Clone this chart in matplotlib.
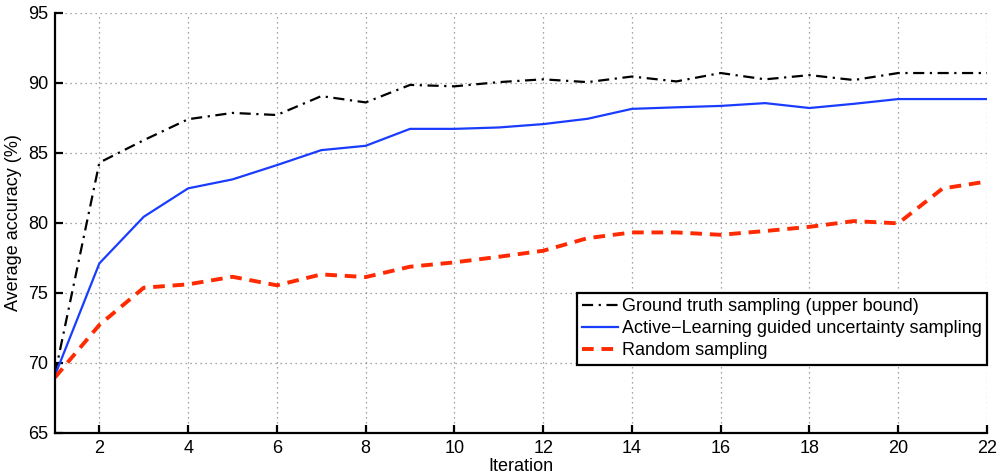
import matplotlib
matplotlib.use("Agg")
import matplotlib.pyplot as plt

iterations = list(range(1, 23))
ground_truth = [69.2, 84.3, 85.9, 87.4, 87.85, 87.7, 89.05, 88.6, 89.85, 89.75,
                90.05, 90.25, 90.05, 90.45, 90.1, 90.7, 90.25, 90.55, 90.2, 90.7,
                90.7, 90.7]
active_learning = [69.1, 77.1, 80.43, 82.46, 83.1, 84.12, 85.19, 85.5, 86.71, 86.71,
                   86.81, 87.05, 87.43, 88.14, 88.25, 88.35, 88.55, 88.2, 88.5, 88.84,
                   88.84, 88.84]
random_sampling = [68.95, 72.7, 75.36, 75.6, 76.14, 75.53, 76.31, 76.12, 76.86, 77.17,
                   77.57, 78.0, 78.9, 79.31, 79.31, 79.14, 79.41, 79.71, 80.12, 79.96,
                   82.45, 82.95]
labels = ["Ground truth sampling (upper bound)",
          "Active\u2212Learning guided uncertainty sampling",
          "Random sampling"]
xticks = list(range(2, 23, 2))
yticks = list(range(65, 96, 5))

plt.rcParams['font.family'] = ['Liberation Sans', 'DejaVu Sans']
fig = plt.figure(figsize=(10, 4.76), dpi=100)
ax = fig.add_axes([0.055, 0.091, 0.932, 0.882])

ax.plot(iterations, ground_truth, color='black', linestyle=(0, (5, 2.5, 1, 2.5)),
        linewidth=1.6, label=labels[0])
ax.plot(iterations, active_learning, color='#1a3cff', linestyle='-',
        linewidth=1.6, label=labels[1])
ax.plot(iterations, random_sampling, color='#ff2a00', linestyle=(0, (3, 2)),
        linewidth=2.8, label=labels[2])

ax.set_xlim(1, 22)
ax.set_ylim(65, 95)
ax.set_xticks(xticks)
ax.set_yticks(yticks)
ax.grid(True, linestyle=(0, (1, 3)), color='#888888', linewidth=0.9)
for s in ['top', 'right']:
    ax.spines[s].set_visible(False)
for s in ['left', 'bottom']:
    ax.spines[s].set_linewidth(1.6)
ax.tick_params(direction='in', length=6, width=1.6, labelsize=13, pad=5)
ax.set_xlabel('Iteration', fontsize=13, labelpad=1)
ax.set_ylabel('Average accuracy (%)', fontsize=13, labelpad=4)

leg = ax.legend(loc='upper right', bbox_to_anchor=(1.0, 0.333), borderaxespad=0,
                fontsize=13, fancybox=False, framealpha=1, edgecolor='black',
                handlelength=2.0, handletextpad=0.2, labelspacing=0.28,
                borderpad=0.3)
leg.get_frame().set_linewidth(1.6)

fig.savefig('out.png', dpi=100)
